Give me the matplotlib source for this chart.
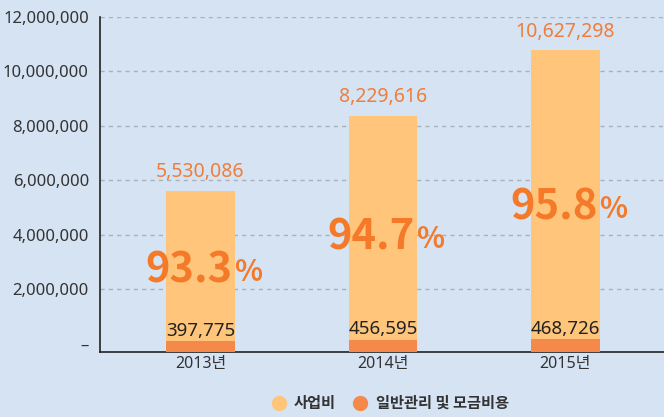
import matplotlib.pyplot as plt
from matplotlib.lines import Line2D
from matplotlib.ticker import FuncFormatter

plt.rcParams['font.family'] = ['Noto Sans', 'Noto Sans CJK KR', 'DejaVu Sans']

years = ["2013년", "2014년", "2015년"]
business = [5530086, 8229616, 10627298]     # 사업비
overhead = [397775, 456595, 468726]         # 일반관리 및 모금비용
yticks = [0, 2000000, 4000000, 6000000, 8000000, 10000000, 12000000]

bg = "#d5e3f3"
c_light = "#ffc57a"
c_dark = "#f5894a"
c_text = "#f07d3a"
c_pct = "#f47a2a"

fig = plt.figure(figsize=(6.64, 4.17), dpi=100, facecolor=bg)
ax = fig.add_axes([100 / 664, 1 - 352 / 417, 564 / 664, 335 / 417])
ax.set_facecolor(bg)

ymin = -310000
x = range(len(years))
width = 0.378

# bars start at the axis line, a little below zero (as in the source chart)
ax.bar(x, overhead, width, bottom=ymin, color=c_dark, zorder=3)
tops = [ymin + o for o in overhead]
ax.bar(x, business, width, bottom=tops, color=c_light, zorder=3)

for i in x:
    total = business[i] + overhead[i]
    top = tops[i] + business[i]
    ax.annotate(f"{business[i]:,}", (i, top), xytext=(0, 6), textcoords="offset points",
                ha="center", va="bottom", fontsize=14, color=c_text, zorder=4)
    ax.annotate(f"{overhead[i]:,}", (i, tops[i]), xytext=(0, 1), textcoords="offset points",
                ha="center", va="bottom", fontsize=13.5, color="#222222", zorder=4)
    pct = business[i] / total * 100
    ypos = 0.45 * total
    ax.annotate(f"{pct:.1f}", (i, ypos), xytext=(23, 0), textcoords="offset points",
                ha="right", va="center", fontsize=30, fontweight="bold", color=c_pct,
                family=['Noto Sans CJK KR'], zorder=4)
    ax.annotate("%", (i, ypos), xytext=(24, -1), textcoords="offset points",
                ha="left", va="center", fontsize=21, fontweight="bold", color=c_pct,
                family=['Noto Sans CJK KR'], zorder=4)

ax.set_xlim(-0.551, 2.54)
ax.set_ylim(ymin, 12000000)
ax.set_yticks(yticks)
ax.yaxis.set_major_formatter(FuncFormatter(lambda v, p: "–" if v == 0 else f"{v:,.0f}"))
ax.set_xticks(list(x))
ax.set_xticklabels(years)
ax.tick_params(axis="y", length=0, pad=8, labelsize=12, labelcolor="#333333")
ax.tick_params(axis="x", length=0, pad=3, labelsize=11.5, labelcolor="#333333")

ax.grid(axis="y", color="#a9b0b8", linestyle=(0, (3, 3)), linewidth=1, zorder=1)
ax.yaxis.get_gridlines()[0].set_visible(False)

for s in ["top", "right"]:
    ax.spines[s].set_visible(False)
ax.spines["left"].set_color("#222222")
ax.spines["bottom"].set_color("#222222")
ax.spines["left"].set_linewidth(1.2)
ax.spines["bottom"].set_linewidth(1.2)

handles = [
    Line2D([], [], marker="o", linestyle="", markersize=10, color=c_light, label="사업비"),
    Line2D([], [], marker="o", linestyle="", markersize=10, color=c_dark, label="일반관리 및 모금비용"),
]
leg = fig.legend(handles=handles, loc="center", bbox_to_anchor=(386 / 664, 1 - 403 / 417),
                 ncol=2, frameon=False, handletextpad=0.0, columnspacing=0.6,
                 prop={"size": 11, "weight": "bold", "family": ["Noto Sans CJK KR"]})
for t in leg.get_texts():
    t.set_color("#333333")

fig.savefig("out.png", dpi=100, facecolor=bg)
